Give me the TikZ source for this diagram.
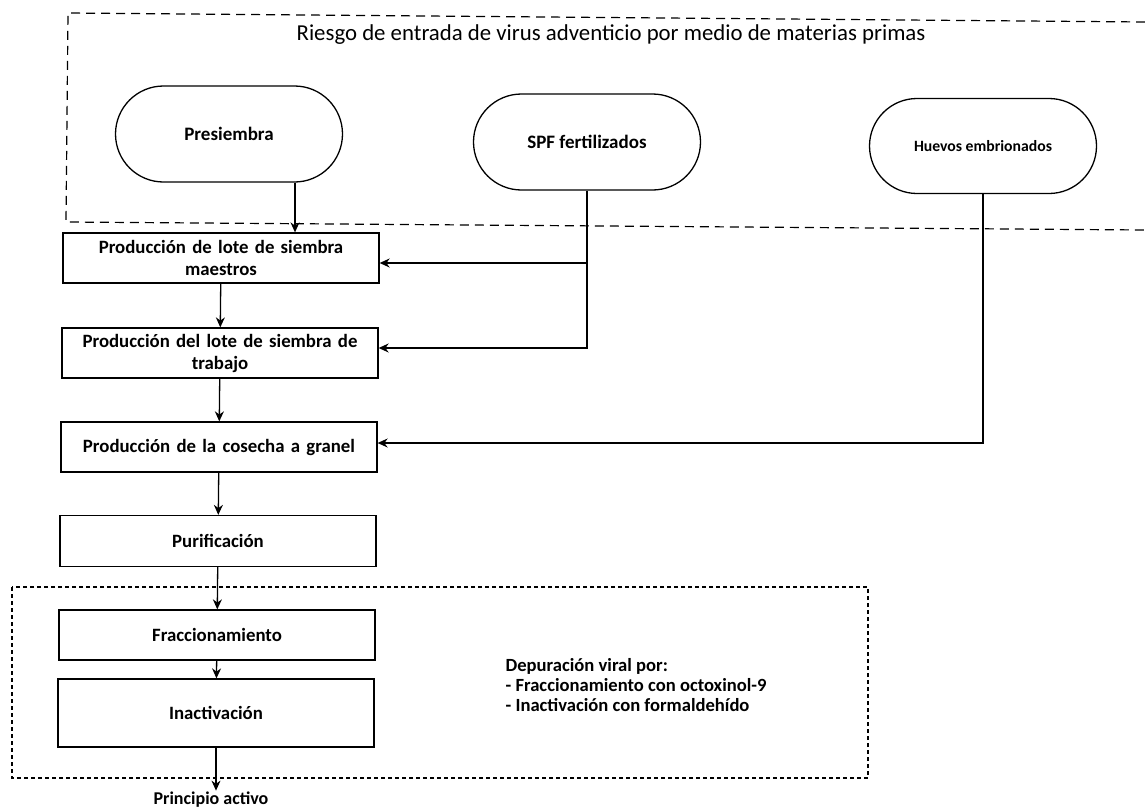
\documentclass[tikz,border=0pt]{standalone}
\usepackage{fontspec}
\setmainfont{Carlito}
\usetikzlibrary{arrows.meta,shapes.misc,calc}
\begin{document}
\begin{tikzpicture}[x=1pt,y=-1pt,
  line width=1.3pt,
  stad/.style={draw, rounded rectangle, minimum height=96pt, minimum width=231pt, font=\fontsize{19}{21}\selectfont\bfseries, inner sep=2pt},
  stepbox/.style={draw, rectangle, minimum width=316pt, minimum height=50pt, text width=306pt, align=center, inner sep=2pt, font=\fontsize{18.8}{22}\selectfont\bfseries},
  arr/.style={-{Stealth[length=10pt,width=9pt]}},
  frameA/.style={dash pattern=on 9pt off 6pt, line width=1.2pt},
  frameB/.style={dash pattern=on 4pt off 3pt, line width=1.2pt}
]
\useasboundingbox (0,0) rectangle (1145,809);
% upper risk frame (open to the right)
\draw[frameA] (1145,22) -- (68,13) -- (66,222) -- (1145,230);
\node[font=\fontsize{22.8}{26}\selectfont] (title) at (611,35) {Riesgo de entrada de virus adventicio por medio de materias primas};
% raw materials
\node[stad] (pre) at (229,134) {Presiembra};
\node[stad] (spf) at (587,142) {SPF fertilizados};
\node[stad, minimum height=95pt, font=\fontsize{15.7}{18}\selectfont\bfseries] (hue) at (983,146) {Huevos embrionados};
% process steps
\node[stepbox] (b1) at (221,258) {Producción de lote de siembra\\maestros};
\node[stepbox] (b2) at (220,353) {Producción del lote de siembra de\\trabajo};
\node[stepbox] (b3) at (219,447) {Producción de la cosecha a granel};
\node[stepbox, minimum height=51pt] (b4) at (218,541) {Purificación};
\node[stepbox] (b5) at (217,635) {Fraccionamiento};
\node[stepbox, minimum height=68pt] (b6) at (216,713) {Inactivación};
\node[font=\fontsize{18}{20}\selectfont\bfseries, inner sep=1pt] (pa) at (211,800) {Principio activo};
% depuration frame
\draw[frameB] (12,587) rectangle (868,778);
\node[anchor=west, align=left, font=\fontsize{18.6}{20}\selectfont\bfseries, inner sep=0pt] (dep) at (505,685) {Depuración viral por:\\- Fraccionamiento con octoxinol-9\\- Inactivación con formaldehído};
% connectors
\coordinate (pj) at (295,0);
\draw[arr] (pre.south -| pj) -- (b1.north -| pj);
\coordinate (s1) at (spf.south |- 0,263);
\coordinate (s2) at (spf.south |- 0,348);
\draw (spf.south) -- (s1);
\draw[arr] (s1) -- (b1.east |- s1);
\draw[arr] (s1) -- (s2) -- (b2.east |- s2);
\coordinate (h3) at (hue.south |- 0,443);
\draw[arr] (hue.south) -- (h3) -- (b3.east |- h3);
\draw[arr] (b1) -- (b2);
\draw[arr] (b2) -- (b3);
\draw[arr] (b3) -- (b4);
\draw[arr] (b4) -- (b5);
\draw[arr] (b5) -- (b6);
\draw[arr] (b6.south) -- (b6.south |- pa.north);
\end{tikzpicture}
\end{document}
